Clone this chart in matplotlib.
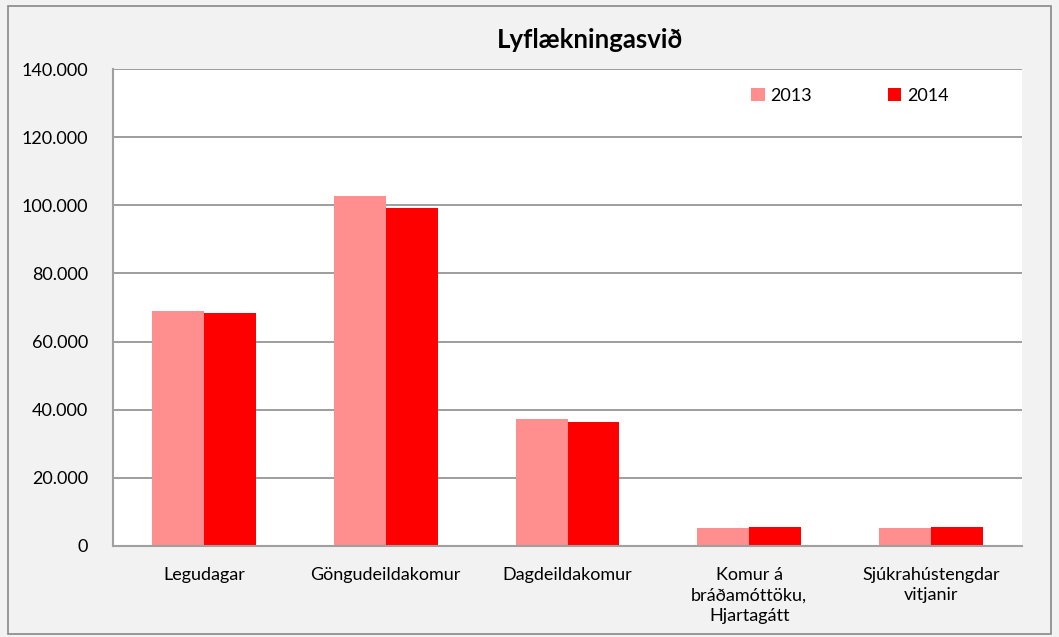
import matplotlib.pyplot as plt
from matplotlib.patches import Rectangle
import numpy as np

categories = ["Legudagar", "Göngudeildakomur", "Dagdeildakomur",
              "Komur á\nbráðamóttöku,\nHjartagátt", "Sjúkrahústengdar\nvitjanir"]
years = ["2013", "2014"]
values_2013 = [69000, 102700, 37300, 5300, 5300]
values_2014 = [68400, 99300, 36400, 5600, 5600]
yticks = [0, 20000, 40000, 60000, 80000, 100000, 120000, 140000]
ytick_labels = ["0", "20.000", "40.000", "60.000", "80.000", "100.000", "120.000", "140.000"]

plt.rcParams["font.family"] = ["Lato", "DejaVu Sans"]

fig = plt.figure(figsize=(10.59, 6.37), dpi=100)
fig.patch.set_facecolor("#f2f2f2")
fig.patches.append(Rectangle((8 / 1059, 1 - 634 / 637), 1043 / 1059, 628 / 637,
                             transform=fig.transFigure, fill=False,
                             edgecolor="#888888", linewidth=1.2))

ax = fig.add_axes([113 / 1059, 1 - 546 / 637, 909 / 1059, 477 / 637])
ax.set_facecolor("white")

x = np.arange(len(categories))
w = 0.285
ax.bar(x - w / 2, values_2013, w, color="#ff8f8f", label=years[0], zorder=2)
ax.bar(x + w / 2, values_2014, w, color="#ff0000", label=years[1], zorder=2)

ax.set_xlim(-0.5, len(categories) - 0.5)
ax.set_ylim(0, 140000)
ax.set_yticks(yticks)
ax.set_yticklabels(ytick_labels, fontsize=13)
ax.set_xticks(x)
ax.set_xticklabels(categories, fontsize=13, linespacing=1.35)
ax.tick_params(axis="x", length=0, pad=15)
ax.tick_params(axis="y", length=0, pad=18)
ax.grid(axis="y", color="#8c8c8c", linewidth=1.2, zorder=1)
for side in ["top", "right"]:
    ax.spines[side].set_visible(False)
for side in ["left", "bottom"]:
    ax.spines[side].set_color("#a0a0a0")
    ax.spines[side].set_linewidth(1.5)

ax.legend(loc="upper right", bbox_to_anchor=(0.937, 0.995), ncol=2, frameon=False,
          fontsize=13, handlelength=0.75, handleheight=0.75, handletextpad=0.3,
          columnspacing=4.2)

fig.text(590 / 1059, 1 - 40 / 637, "Lyflækningasvið",
         ha="center", va="center", fontsize=18.5, fontweight="bold")

fig.savefig("out.png", dpi=100, facecolor=fig.get_facecolor())
